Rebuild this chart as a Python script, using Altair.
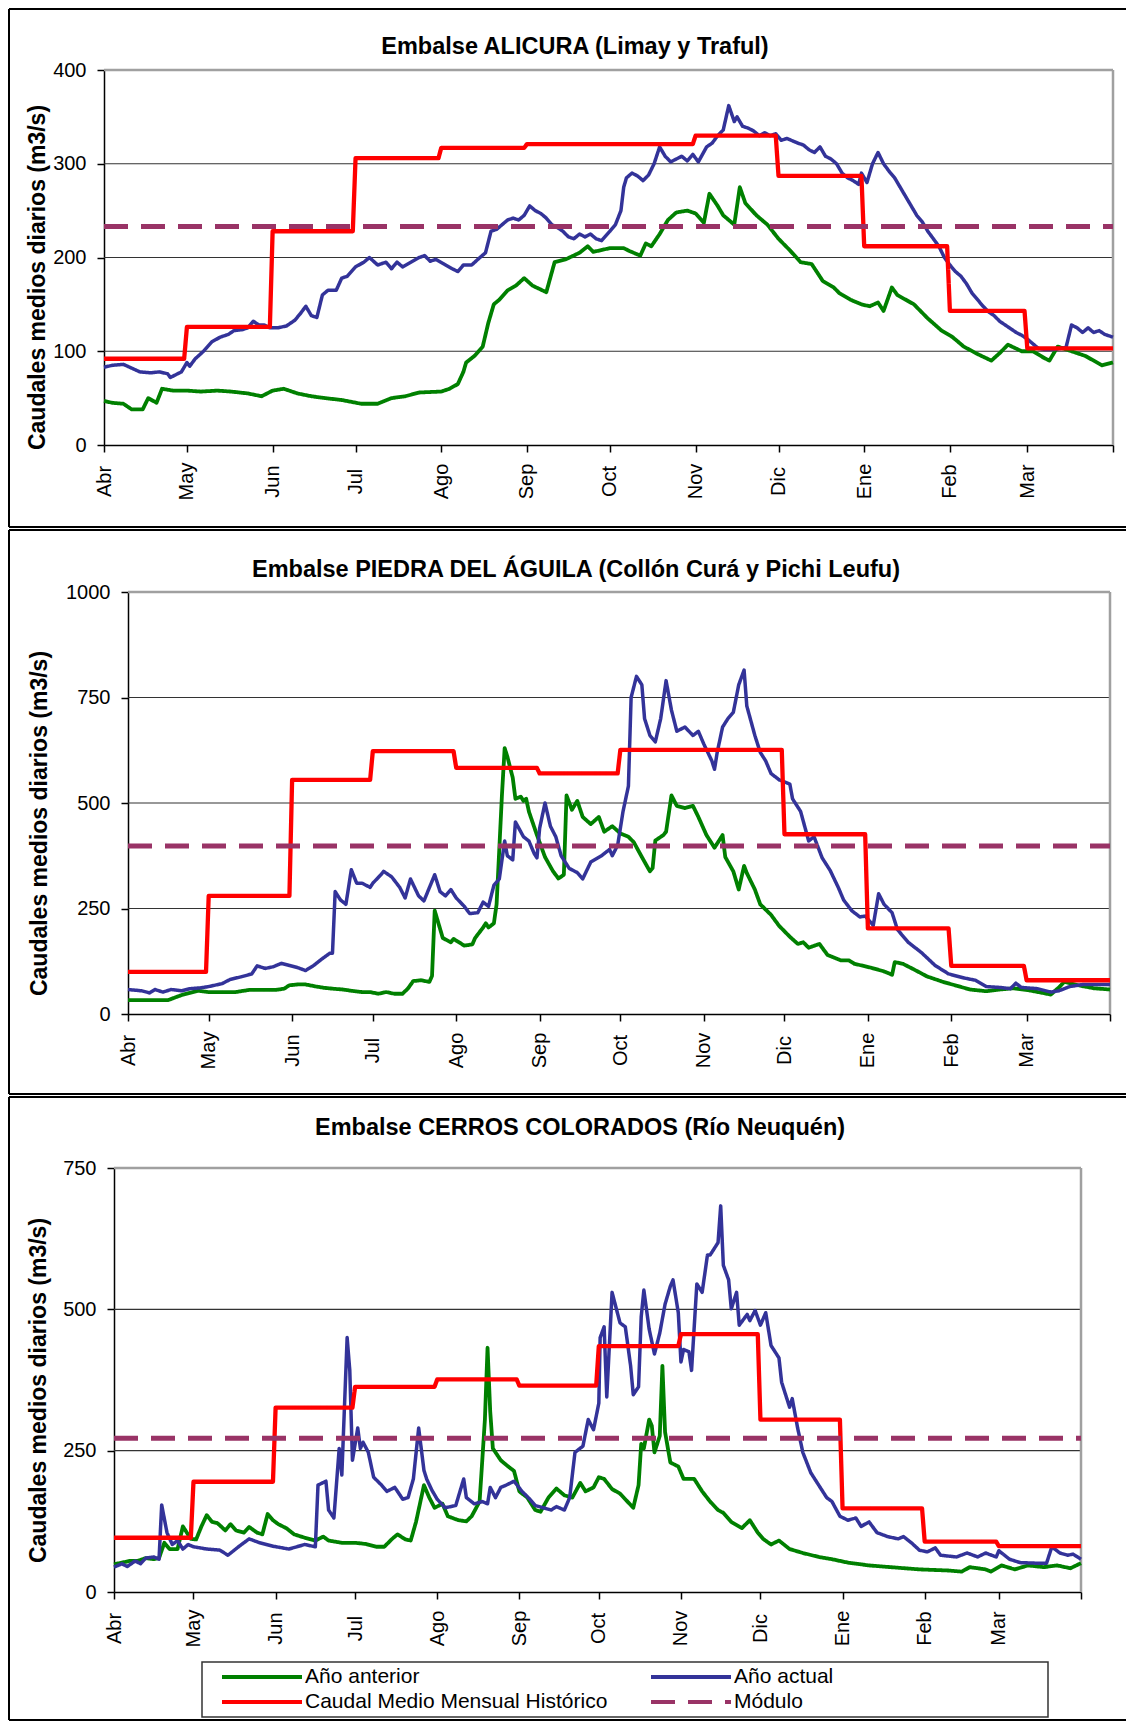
import altair as alt
import pandas as pd

FONT = "Liberation Sans"

# ---------------- axis categories ----------------
MONTHS = ["Abr", "May", "Jun", "Jul", "Ago", "Sep", "Oct", "Nov", "Dic", "Ene", "Feb", "Mar"]
MONTH_START = [0, 30, 61, 91, 122, 153, 183, 214, 244, 275, 306, 334]
YEAR_END = 365

SERIES = ["Año anterior", "Año actual", "Caudal Medio Mensual Histórico", "Módulo"]
COLORS = ["#008000", "#333399", "#FF0000", "#993366"]
DASHES = [[1, 0], [1, 0], [1, 0], [24, 13]]
WIDTHS = [3.8, 3.5, 4.3, 5]
Y_TITLE = "Caudales medios diarios (m3/s)"

# ---------------- Panel 1: ALICURA ----------------
ALI_TITLE = "Embalse ALICURA (Limay y Traful)"
ALI_PREV = [(0,47),(3,45),(7,44),(10,38),(14,38),(16,50),(19,45),(21,60),(25,58),(30,58),(35,57),(41,58),(46,57),
            (52,55),(57,52),(61,58),(65,60),(70,55),(75,52),(80,50),(86,48),(93,44),(99,44),(104,50),(109,52),
            (114,56),(122,57),(125,60),(128,65),(130,78),(131,88),(134,95),(137,105),(139,130),(141,150),(143,155),
            (146,165),(149,170),(152,178),(155,170),(160,163),(163,195),(167,198),(172,205),(175,212),(177,206),
            (183,210),(188,210),(190,207),(194,202),(196,215),(198,212),(201,225),(204,240),(207,248),(211,250),
            (214,247),(217,237),(219,268),(222,255),(224,245),(228,235),(230,275),(232,258),(236,245),(240,235),
            (244,220),(248,208),(252,195),(256,193),(260,175),(264,168),(266,162),(270,155),(274,150),(277,148),
            (280,152),(282,143),(285,168),(287,160),(293,150),(298,135),(303,122),(307,115),(311,105),(316,97),
            (321,90),(324,98),(327,107),(332,100),(336,100),(340,93),(342,90),(345,105),(350,100),(355,95),
            (361,85),(365,88)]
ALI_CURR = [(0,83),(3,85),(7,86),(10,82),(13,78),(17,77),(20,78),(23,76),(24,72),(26,75),(28,78),(30,88),(31,84),
            (33,92),(36,100),(39,110),(42,115),(45,118),(47,122),(50,123),(52,125),(54,132),(56,128),(58,128),
            (60,125),(63,125),(66,127),(69,133),(71,140),(73,148),(75,138),(77,136),(79,160),(81,165),(84,165),
            (86,178),(88,180),(91,190),(94,195),(96,200),(99,192),(102,195),(104,188),(106,195),(108,190),
            (111,195),(114,200),(116,202),(118,196),(120,198),(123,193),(126,188),(128,185),(130,192),(133,192),
            (136,200),(138,205),(140,228),(142,230),(144,235),(146,240),(148,242),(150,240),(152,245),(154,255),
            (156,250),(158,247),(160,242),(162,235),(164,232),(166,228),(168,222),(170,220),(172,225),(174,222),
            (176,225),(178,220),(180,218),(183,228),(185,235),(187,250),(188,275),(189,285),(191,290),(193,287),
            (195,282),(197,288),(199,300),(201,318),(203,308),(205,302),(207,305),(209,308),(211,303),(213,310),
            (215,302),(218,318),(220,322),(222,330),(224,336),(226,362),(228,345),(229,350),(231,340),(233,338),
            (235,335),(237,330),(239,333),(241,330),(243,332),(245,325),(247,327),(251,322),(253,320),(255,315),
            (257,312),(259,318),(261,308),(263,305),(265,300),(267,290),(269,285),(271,282),(273,278),(274,290),
            (276,280),(278,300),(280,312),(282,300),(284,292),(286,285),(288,275),(290,265),(292,255),(294,245),
            (296,238),(298,228),(300,220),(302,212),(304,200),(306,192),(308,185),(310,180),(312,172),(314,162),
            (316,155),(318,148),(320,142),(322,138),(324,132),(326,128),(328,124),(330,120),(332,117),(334,113),
            (336,108),(338,103),(340,102),(342,102),(344,102),(346,103),(348,104),(350,128),(352,125),(354,120),
            (356,125),(358,120),(360,122),(362,118),(365,115)]
ALI_HIST = [92, 126, 228, 306, 317, 321, 321, 330, 287, 212, 143, 103]
ALI_MODULO = 233

# ---------------- Panel 2: PIEDRA DEL ÁGUILA ----------------
PDA_TITLE = "Embalse PIEDRA DEL ÁGUILA (Collón Curá y Pichi Leufu)"
PDA_PREV = [(0,33),(8,33),(15,33),(17,38),(20,45),(23,50),(26,55),(30,52),(35,52),(40,52),(45,57),(50,57),(55,57),
            (58,60),(60,68),(63,70),(66,70),(70,65),(73,62),(76,60),(80,58),(83,55),(87,52),(90,52),(93,48),(96,52),
            (99,48),(102,48),(104,60),(106,78),(109,80),(112,76),(113,90),(114,245),(117,180),(120,170),(121,178),
            (125,162),(128,165),(129,180),(132,205),(133,215),(134,205),(136,215),(137,260),(139,520),(140,630),
            (141,610),(143,560),(144,510),(146,515),(147,505),(148,510),(149,480),(152,424),(155,372),(158,338),
            (160,321),(162,330),(163,518),(165,484),(167,505),(169,467),(172,450),(175,467),(177,432),(180,445),
            (183,428),(186,420),(188,407),(191,372),(194,338),(195,346),(196,411),(199,424),(200,432),(202,518),
            (204,493),(207,488),(210,493),(212,467),(215,424),(218,394),(221,424),(222,372),(225,338),(227,295),
            (229,351),(230,334),(233,295),(235,260),(239,235),(242,209),(246,183),(249,166),(251,170),(253,157),
            (257,166),(260,140),(265,127),(268,127),(270,119),(276,110),(281,101),(284,93),(285,123),(288,119),
            (292,106),(297,89),(303,76),(308,67),(313,58),(319,54),(324,58),(329,61),(335,56),(340,50),(343,46),
            (346,63),(348,76),(354,67),(359,61),(365,58)]
PDA_CURR = [(0,58),(5,55),(8,50),(10,58),(13,52),(16,58),(20,55),(23,60),(27,62),(30,65),(35,72),(38,82),(42,88),
            (46,95),(48,114),(51,108),(54,112),(57,120),(60,115),(63,110),(66,103),(69,115),(72,130),(75,144),
            (76,144),(77,290),(79,270),(81,260),(83,342),(85,310),(87,310),(90,300),(91,310),(94,330),(95,338),
            (98,325),(101,300),(103,275),(105,320),(108,280),(110,268),(114,330),(116,290),(118,280),(120,295),
            (122,275),(125,255),(127,238),(130,240),(132,265),(134,255),(136,305),(138,320),(140,410),(141,375),
            (143,365),(144,455),(147,420),(149,410),(151,380),(152,370),(153,440),(155,500),(157,445),(159,420),
            (161,375),(164,345),(167,335),(169,320),(172,360),(176,375),(179,390),(180,375),(182,400),(184,480),
            (186,540),(187,750),(189,800),(191,780),(192,700),(194,660),(196,645),(198,700),(200,790),(202,720),
            (204,670),(207,680),(210,660),(212,670),(214,640),(217,600),(218,580),(219,620),(221,680),(223,700),
            (225,715),(227,780),(229,815),(230,730),(233,660),(235,620),(237,600),(239,570),(242,555),(246,545),
            (247,510),(250,480),(253,410),(255,420),(258,370),(261,340),(264,300),(266,270),(269,245),(272,230),
            (274,232),(277,210),(279,285),(281,260),(284,240),(286,200),(290,170),(295,145),(300,115),(305,95),
            (311,85),(315,80),(319,65),(324,63),(328,60),(330,73),(332,63),(338,60),(343,52),(346,55),(350,65),
            (355,70),(365,70)]
PDA_HIST = [100, 280, 555, 623, 583, 570, 626, 626, 426, 203, 114, 80]
PDA_MODULO = 398

# ---------------- Panel 3: CERROS COLORADOS ----------------
CC_TITLE = "Embalse CERROS COLORADOS (Río Neuquén)"
CC_PREV = [(0,49),(3,52),(6,55),(9,55),(12,60),(15,58),(17,60),(19,87),(21,76),(24,76),(26,116),(29,94),(31,93),
           (33,116),(35,136),(37,124),(39,122),(42,109),(44,120),(46,109),(49,105),(51,115),(54,105),(56,102),
           (58,138),(60,127),(62,120),(65,113),(68,102),(72,96),(76,91),(79,98),(81,91),(86,87),(91,87),(95,85),
           (99,80),(102,80),(105,94),(107,102),(110,93),(112,91),(114,124),(117,189),(119,167),(121,149),(124,156),
           (126,134),(130,127),(133,125),(135,134),(138,160),(140,305),(141,432),(142,320),(143,254),(146,233),
           (148,225),(151,214),(153,178),(156,167),(159,145),(161,142),(164,167),(167,183),(170,171),(173,167),
           (176,193),(178,178),(181,185),(183,203),(185,200),(188,182),(191,174),(193,164),(196,149),(198,189),
           (199,262),(200,254),(202,305),(203,294),(204,247),(206,276),(207,400),(208,283),(210,229),(213,222),
           (215,200),(219,200),(222,178),(225,160),(228,145),(230,140),(233,124),(237,113),(240,127),(243,105),
           (245,94),(248,84),(251,91),(255,76),(260,69),(266,62),(271,58),(277,52),(285,47),(293,44),(304,40),
           (315,38),(320,36),(323,44),(329,40),(331,36),(335,47),(340,40),(345,47),(351,44),(356,47),(361,42),
           (365,51)]
CC_CURR = [(0,44),(3,50),(5,45),(8,55),(10,50),(12,60),(15,62),(17,58),(18,154),(20,105),(22,84),(24,91),(26,76),
           (28,84),(30,80),(35,76),(40,74),(43,65),(47,80),(51,94),(55,87),(60,81),(66,76),(72,84),(76,80),(77,189),
           (80,196),(81,145),(83,131),(85,254),(86,207),(88,450),(89,392),(90,233),(92,290),(93,254),(94,265),
           (96,247),(98,203),(101,189),(103,178),(106,185),(109,164),(111,167),(113,200),(115,290),(117,215),
           (118,200),(120,180),(122,164),(125,149),(129,153),(132,200),(133,167),(136,156),(139,160),(141,156),
           (142,185),(144,167),(146,185),(148,189),(151,196),(154,178),(157,164),(159,153),(162,149),(165,145),
           (167,151),(170,145),(172,167),(174,247),(177,258),(179,305),(181,287),(183,334),(183.5,450),(185,469),
           (186,345),(188,530),(191,476),(193,469),(195,400),(196,349),(198,363),(199,487),(200,534),(202,465),
           (204,421),(206,458),(208,509),(210,541),(211,552),(213,494),(214,407),(215,429),(217,425),(218,392),
           (220,545),(222,530),(224,596),(225,596),(228,618),(229,683),(230,578),(232,552),(233,501),(235,530),
           (236,472),(239,491),(240,480),(242,498),(244,472),(246,494),(248,436),(251,414),(252,371),(255,327),
           (256,342),(258,291),(260,247),(263,211),(266,189),(269,167),(271,160),(274,134),(277,127),(280,131),
           (282,116),(285,124),(288,105),(292,98),(296,94),(298,98),(301,87),(304,74),(307,71),(310,78),(312,65),
           (318,62),(322,69),(326,62),(329,69),(333,62),(334,73),(338,58),(342,52),(348,51),(352,51),(354,80),
           (357,69),(360,65),(362,67),(365,58)]
CC_HIST = [96, 195, 326, 363, 376, 365, 435, 456, 305, 148, 89, 81]
CC_MODULO = 272

# ---------------- page layout (page pixels; the chart origin sits at page (8, 8)) ----------------
OX, OY = 8, 8
CW, CH = 1119, 1714
FRAME_L, FRAME_R = 9, 1126
P1 = dict(box=(104, 70, 1009, 375), frame=(9, 527), ymax=400, step=100,
          title_c=(575, 46.5), ytitle_c=(37, 277))
P2 = dict(box=(128, 592, 982, 422), frame=(530, 1094), ymax=1000, step=250,
          title_c=(576, 570), ytitle_c=(39, 823))
P3 = dict(box=(114, 1168, 967, 424), frame=(1097, 1720), ymax=750, step=250,
          title_c=(580, 1128), ytitle_c=(38, 1390))
LEGEND_BOX = (202, 1048, 1662, 1717)

# legend sample: a custom horizontal path, scaled by Vega by sqrt(size)/2
SYM_D = 26                         # symbol "diameter" Vega uses for entry layout
SYM_LEN = 80                       # drawn sample length
SYM_SW = 4
HALF = SYM_LEN / SYM_D             # half-length in the unit space of the path
SYM_PATH = "M-%.4f,0H%.4f" % (HALF, HALF)
ENTRY = SYM_D + SYM_SW
ROW1_Y = 1677
LEGEND_PX = 247                    # page x of the legend group (samples start ~22px left of it)

ONE = pd.DataFrame({"k": [0]})

tick_vals = MONTH_START + [YEAR_END]
tick_labels = MONTHS + [""]
LABEL_EXPR = ("[" + ",".join("'%s'" % m for m in tick_labels) + "][indexof(["
              + ",".join(str(v) for v in tick_vals) + "], datum.value)]")

LEGEND = alt.Legend(title=None, orient="none", legendX=LEGEND_PX - OX, legendY=ROW1_Y - ENTRY / 2 - OY,
                    columns=2, direction="horizontal", symbolType=SYM_PATH, symbolSize=SYM_D ** 2,
                    symbolStrokeWidth=SYM_SW, labelFontSize=21, labelFont=FONT, labelColor="black",
                    labelOffset=int(SYM_LEN / 2 - ENTRY / 2 + 3), columnPadding=35, rowPadding=0,
                    padding=0, labelLimit=0)
COLOR = alt.Color("serie:N", scale=alt.Scale(domain=SERIES, range=COLORS), legend=LEGEND)
DASH = alt.StrokeDash("serie:N", scale=alt.Scale(domain=SERIES, range=DASHES), legend=LEGEND)


def series_df(pairs, name):
    return pd.DataFrame({"day": [p[0] for p in pairs], "q": [p[1] for p in pairs], "serie": name})


def monthly_df(hist, name):
    days, vals = [], []
    for d in range(YEAR_END + 1):
        idx = max(i for i, s in enumerate(MONTH_START) if s <= d)
        days.append(d)
        vals.append(hist[idx])
    return pd.DataFrame({"day": days, "q": vals, "serie": name})


def px(v):
    return v - OX


def py(v):
    return v - OY


def hrule(x1, x2, y, color, w):
    return alt.Chart(ONE).mark_rule(color=color, strokeWidth=w).encode(
        x=alt.value(px(x1)), x2=alt.value(px(x2)), y=alt.value(py(y)))


def vrule(x, y1, y2, color, w):
    return alt.Chart(ONE).mark_rule(color=color, strokeWidth=w).encode(
        x=alt.value(px(x)), y=alt.value(py(y1)), y2=alt.value(py(y2)))


def panel(p, title, prev, curr, hist, modulo):
    L, T, W, H = p["box"]
    R, B = L + W, T + H
    FT, FB = p["frame"]
    ymax, step = p["ymax"], p["step"]

    x_axis = alt.Axis(orient="bottom", offset=py(B) - CH, values=tick_vals, labelExpr=LABEL_EXPR,
                      labelAngle=270, labelAlign="center", labelBaseline="middle", labelPadding=29,
                      tickSize=7, grid=False, title=None, labelFontSize=20, labelFont=FONT,
                      labelColor="black", domainColor="black", tickColor="black", domainWidth=1.5,
                      tickWidth=1.5, labelOverlap=False, labelFlush=False)
    y_axis = alt.Axis(orient="left", offset=-px(L), values=list(range(0, ymax + 1, step)), format="d",
                      grid=False, tickSize=7, labelPadding=11, labelFontSize=20, labelFont=FONT,
                      labelColor="black", domainColor="black", tickColor="black", domainWidth=1.5,
                      tickWidth=1.5, title=Y_TITLE, titleFont=FONT, titleFontSize=23,
                      titleFontWeight="bold", titleColor="black", titleAngle=270,
                      titleX=p["ytitle_c"][0] - L, titleY=py(p["ytitle_c"][1]),
                      titleAlign="center", titleBaseline="middle")
    X = alt.X("day:Q", scale=alt.Scale(domain=[0, YEAR_END], range=[px(L), px(R)], nice=False, zero=False),
              axis=x_axis)
    Y = alt.Y("q:Q", scale=alt.Scale(domain=[0, ymax], range=[py(B), py(T)], nice=False, zero=True),
              axis=y_axis)

    grid_df = pd.DataFrame({"q": list(range(step, ymax, step))})
    grid = alt.Chart(grid_df).mark_rule(color="#333333", strokeWidth=1.2).encode(
        y=Y, x=alt.value(px(L)), x2=alt.value(px(R)))

    frames = [
        series_df(prev, SERIES[0]),
        series_df(curr, SERIES[1]),
        monthly_df(hist, SERIES[2]),
        pd.DataFrame({"day": [0, YEAR_END], "q": [modulo, modulo], "serie": SERIES[3]}),
    ]
    lines = [
        alt.Chart(df).mark_line(strokeWidth=WIDTHS[i], strokeCap="butt", strokeJoin="round").encode(
            x=X, y=Y, color=COLOR, strokeDash=DASH)
        for i, df in enumerate(frames)
    ]
    border = [hrule(L, R, T, "#a0a0a0", 2.5), vrule(R, T, B, "#a0a0a0", 2.5)]
    ttl = alt.Chart(pd.DataFrame({"t": [title]})).mark_text(
        font=FONT, fontSize=23.5, fontWeight="bold", align="center", baseline="middle", color="black"
    ).encode(text="t:N", x=alt.value(px(p["title_c"][0])), y=alt.value(py(p["title_c"][1])))
    box = [
        hrule(FRAME_L, FRAME_R, FT, "black", 2),
        hrule(FRAME_L, FRAME_R, FB, "black", 2),
        vrule(FRAME_L, FT, FB, "black", 2),
    ]
    return alt.layer(grid, *border, *lines, ttl, *box)


p1 = panel(P1, ALI_TITLE, ALI_PREV, ALI_CURR, ALI_HIST, ALI_MODULO)
p2 = panel(P2, PDA_TITLE, PDA_PREV, PDA_CURR, PDA_HIST, PDA_MODULO)
p3 = panel(P3, CC_TITLE, CC_PREV, CC_CURR, CC_HIST, CC_MODULO)

bx1, bx2, by1, by2 = LEGEND_BOX
legend_box = alt.Chart(ONE).mark_rect(filled=False, stroke="#333333", strokeWidth=1.5).encode(
    x=alt.value(px(bx1)), x2=alt.value(px(bx2)), y=alt.value(py(by1)), y2=alt.value(py(by2)))

chart = (
    alt.layer(p1, p2, p3, legend_box)
    .resolve_scale(x="independent", y="independent")
    .resolve_axis(x="independent", y="independent")
    .properties(width=CW, height=CH, padding=0, background="white",
                autosize=alt.AutoSizeParams(type="none"))
    .configure_view(stroke="transparent")
)

chart.save("out.html", embed_options={"renderer": "svg", "actions": False})
